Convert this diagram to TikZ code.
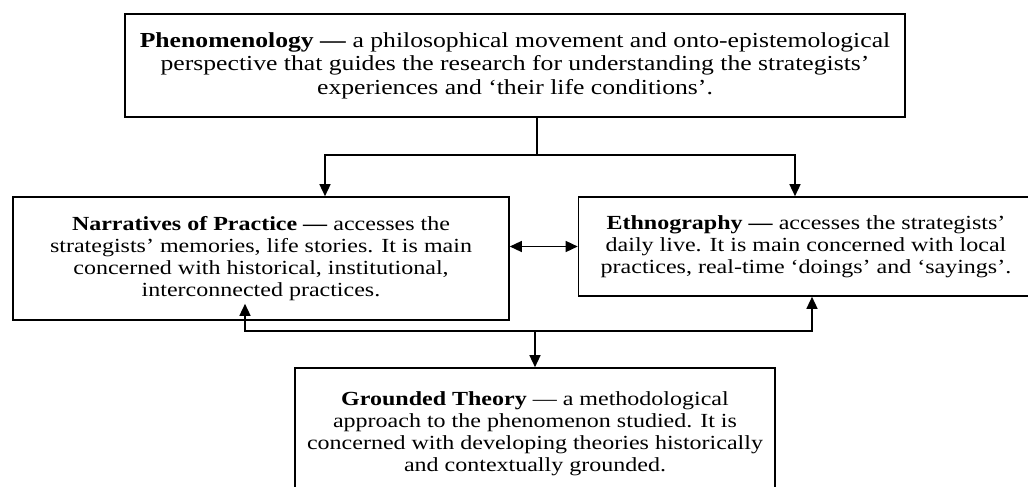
\documentclass[tikz,border=0pt]{standalone}
\usepackage{fontspec}
\setmainfont{Liberation Serif}[FakeStretch=1.2]
\usepackage{tikz}
\usetikzlibrary{arrows.meta}
\usetikzlibrary{positioning}

\begin{document}
\begin{tikzpicture}[x=0.5pt,y=-0.5pt,>={Triangle[length=6pt,width=5.5pt]},line width=0.7pt,
	box/.style={draw,line width=0.8pt,align=center,inner sep=0pt,font=\fontsize{10}{11}\selectfont}]
			\useasboundingbox (0,0) rectangle (1028,487);
			\node[box,minimum width=390pt,minimum height=51.5pt,font=\fontsize{10.7}{11.7}\selectfont] (phen) at (515,65.5)
				{\textbf{Phenomenology —} a philosophical movement and onto-epistemological\\
				perspective that guides the research for understanding the strategists’\\
				experiences and ‘their life conditions’.};
			\node[box,minimum width=248pt,minimum height=61.5pt] (narr) at (261,258.5)
				{\textbf{Narratives of Practice —} accesses the\\
				strategists’ memories, life stories. It is main\\
				concerned with historical, institutional,\\
				interconnected practices.};
			\node[box,minimum width=227.5pt,minimum height=49.5pt] (ethn) at (806,246.5)
				{\textbf{Ethnography —} accesses the strategists’\\
				daily live. It is main concerned with local\\
				practices, real-time ‘doings’ and ‘sayings’.};
			\node[box,minimum width=240pt,minimum height=66pt] (grnd) at (535,434)
				{\textbf{Grounded Theory} — a methodological\\
				approach to the phenomenon studied. It is\\
				concerned with developing theories historically\\
				and contextually grounded.};
			\coordinate (split) at (537,155);
			\coordinate (join) at (535,331);
			\draw  ([xshift=11pt]phen.south) -- (split);
			\draw[->]  (split) -| ([xshift=32pt]narr.north);
			\draw[->]  (split) -| ([xshift=-5.5pt]ethn.north);
			\draw[<->]  (ethn.west -| narr.east) -- (ethn.west);
			\draw[->]  (join) -| ([xshift=-8pt,yshift=8.5pt]narr.south);
			\draw[->]  (join) -| ([xshift=3pt]ethn.south);
			\draw[->]  (join) -- (grnd.north);
\end{tikzpicture}
\end{document}
